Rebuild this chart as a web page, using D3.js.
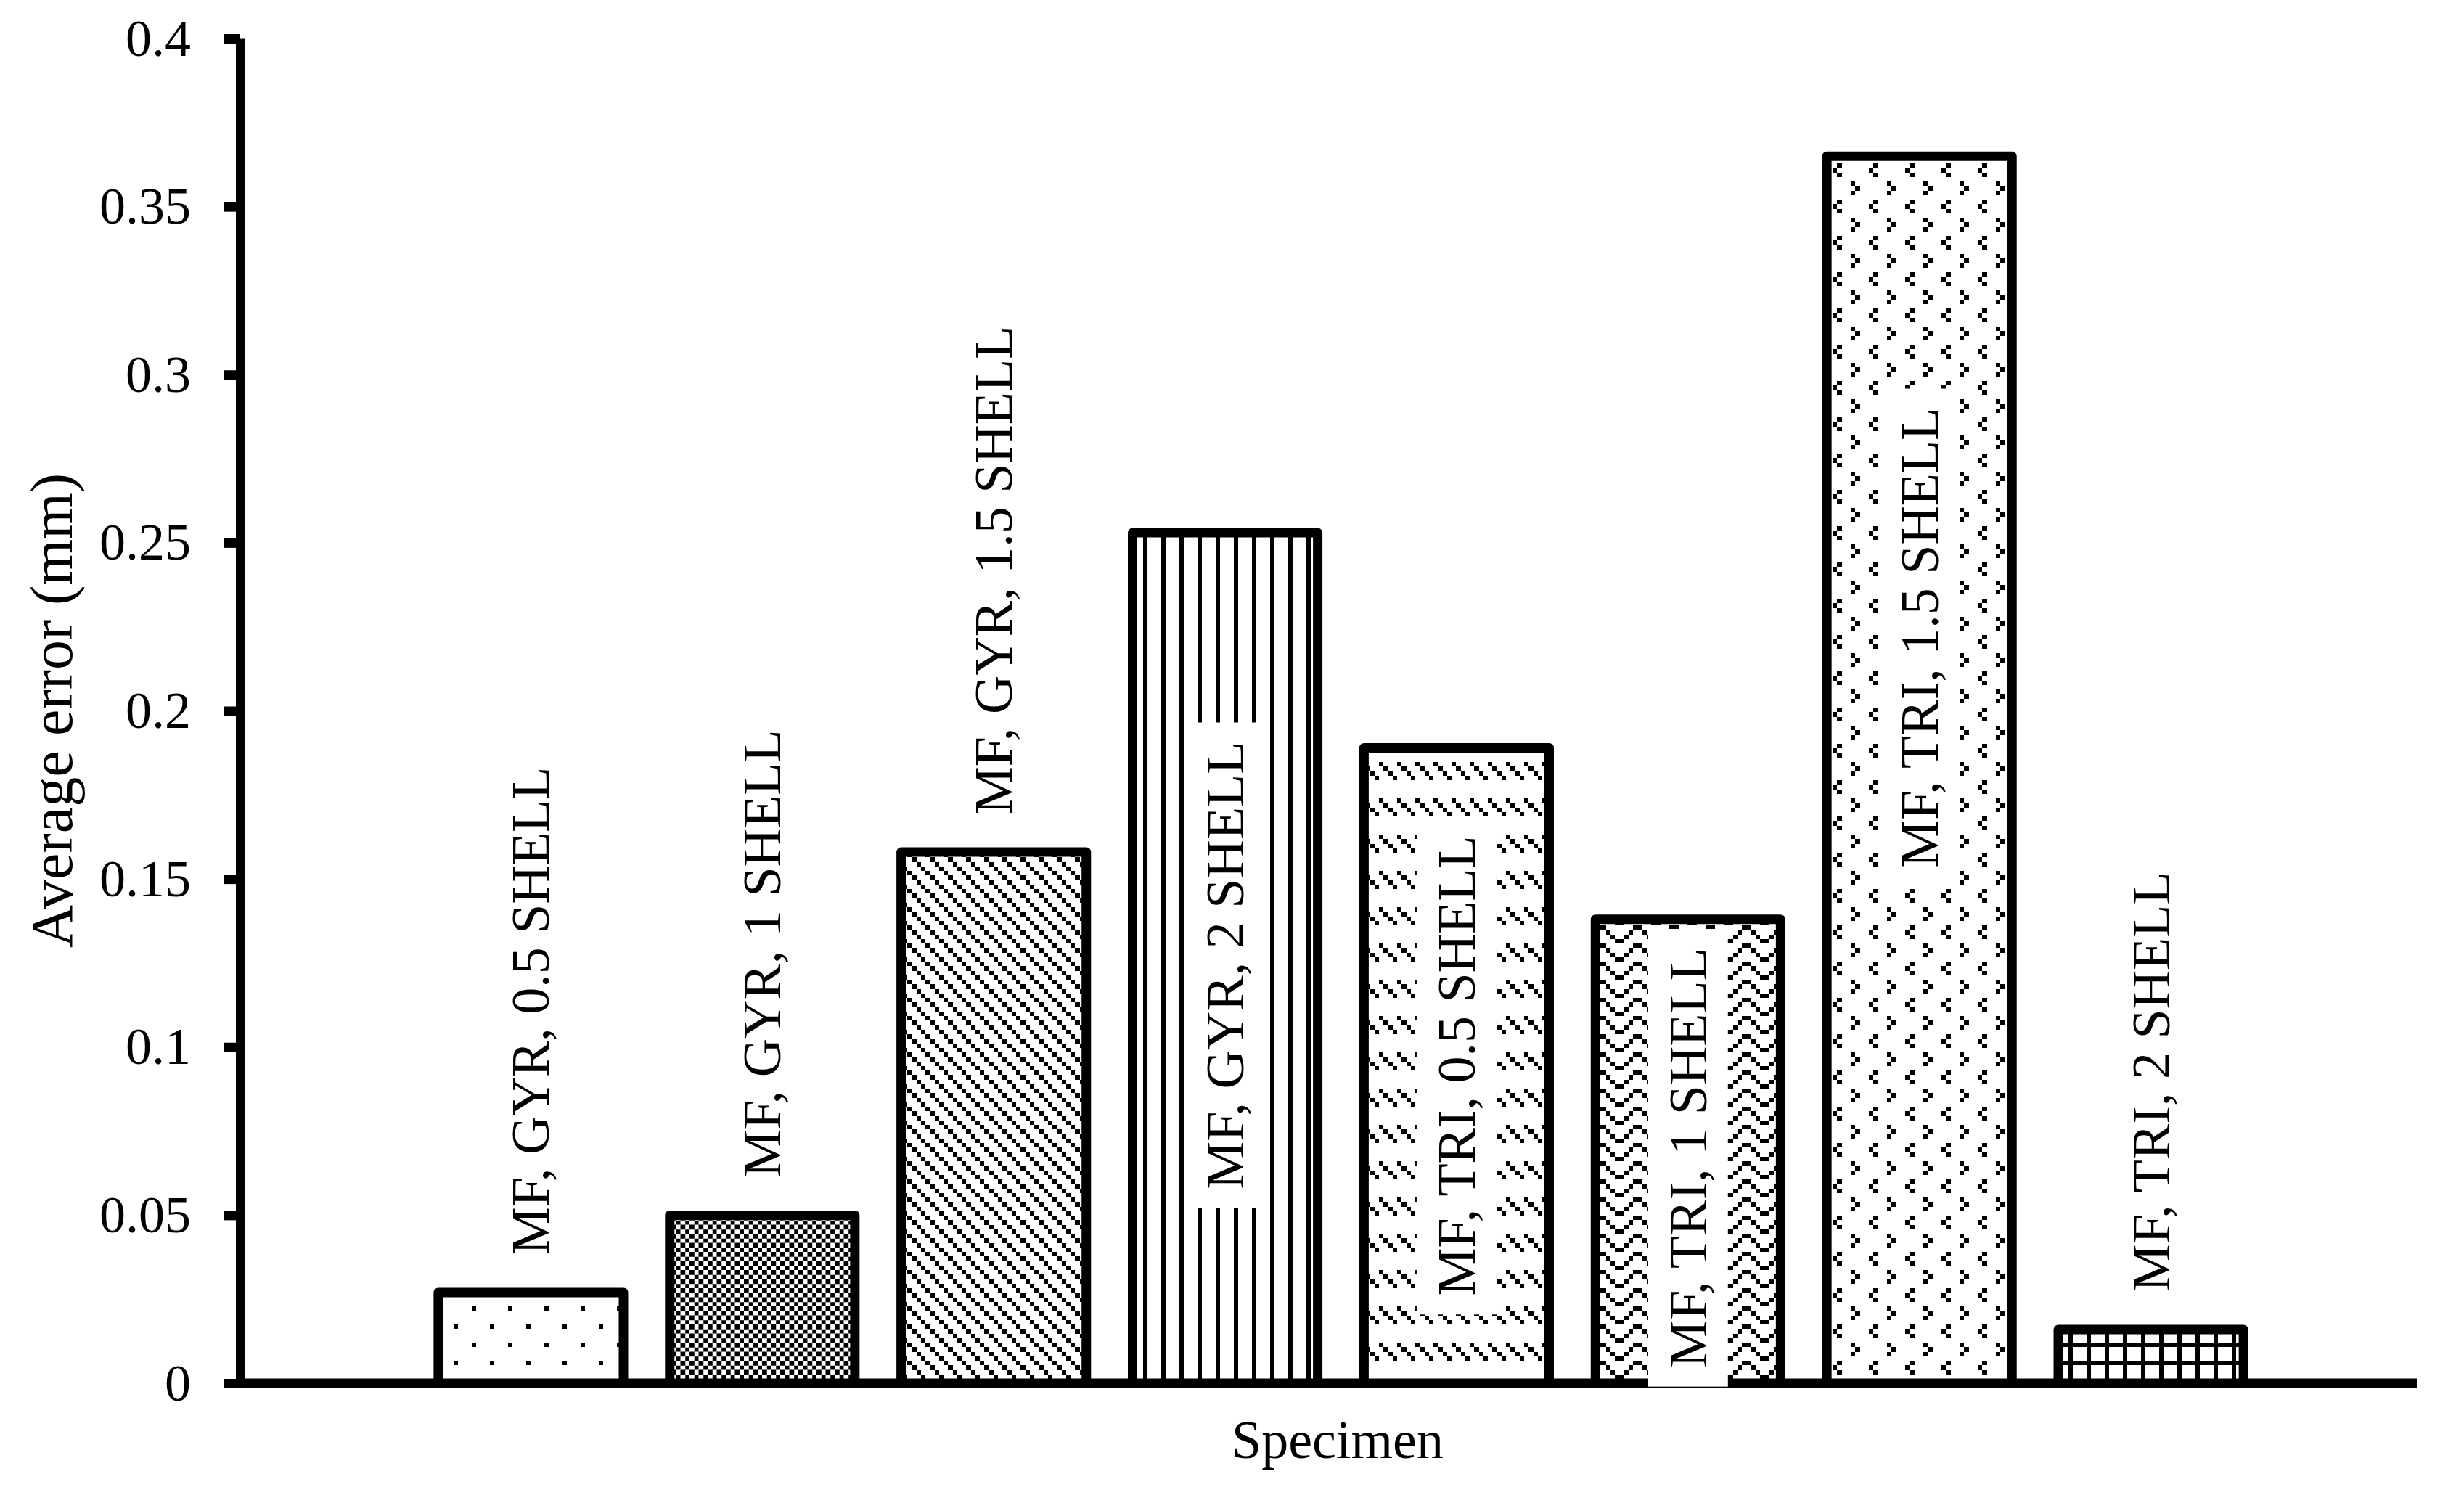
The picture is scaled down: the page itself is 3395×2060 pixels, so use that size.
<!DOCTYPE html>
<html>
<head>
<meta charset="utf-8">
<script src="https://cdn.jsdelivr.net/npm/d3@7/dist/d3.min.js"></script>
<style>
  body { margin: 0; background: #fff; }
  svg { display: block; }
  text { font-family: "Liberation Serif", "Times New Roman", serif; fill: #000; }
</style>
</head>
<body>
<div id="chart-area"></div>
<script>
// data
var specimens = [
    "MF, GYR, 0.5 SHELL",
    "MF, GYR, 1 SHELL",
    "MF, GYR, 1.5 SHELL",
    "MF, GYR, 2 SHELL",
    "MF, TRI, 0.5 SHELL",
    "MF, TRI, 1 SHELL",
    "MF, TRI, 1.5 SHELL",
    "MF, TRI, 2 SHELL"
];
var avgError = [0.027, 0.050, 0.158, 0.253, 0.189, 0.138, 0.365, 0.016];
var yTicks = [0, 0.05, 0.1, 0.15, 0.2, 0.25, 0.3, 0.35, 0.4];
var yTickLabels = ["0", "0.05", "0.1", "0.15", "0.2", "0.25", "0.3", "0.35", "0.4"];

// look of each bar (excel style hatch fills) and where its label sits
var fills = ["pct5", "pct50", "ltDnDiag", "ltVert", "dashDnDiag", "zigZag", "divot", "smGrid"];
var labelInside = [false, false, false, true, true, true, true, false];
var labelShift = [0, 0, 0, 10, 0, 9, -182, 0];

var W = 3395, H = 2060;
var svg = d3.select("#chart-area").append("svg").attr("width", W).attr("height", H);
svg.append("rect").attr("width", W).attr("height", H).attr("fill", "#fff");

// 8x8 style bitmaps, one pattern pixel = 6.25 screen px
var px = 6.25;
var bitmaps = {
    pct5: ["10000000", "00000000", "00000000", "00000000", "00001000", "00000000", "00000000", "00000000"],
    pct50: ["10", "01"],
    ltDnDiag: ["1000", "0100", "0010", "0001"],
    ltVert: ["1000"],
    dashDnDiag: ["1000", "0100", "0010", "0001", "0000", "0000", "0000", "0000"],
    zigZag: ["11000000", "00100001", "00010010", "00001100"],
    divot: ["10000000", "01000000", "10000000", "00000000", "00000100", "00001000", "00000100", "00000000"],
    smGrid: ["1111", "1000", "1000", "1000"]
};

var defs = svg.append("defs");
Object.keys(bitmaps).forEach(function(name) {
    var rows = bitmaps[name];
    var pat = defs.append("pattern")
        .attr("id", "pat-" + name)
        .attr("patternUnits", "userSpaceOnUse")
        .attr("width", rows[0].length * px)
        .attr("height", rows.length * px);
    pat.append("rect")
        .attr("width", rows[0].length * px)
        .attr("height", rows.length * px)
        .attr("fill", "#fff");
    rows.forEach(function(row, r) {
        row.split("").forEach(function(c, k) {
            if (c === "1") {
                pat.append("rect")
                    .attr("x", k * px).attr("y", r * px)
                    .attr("width", px).attr("height", px)
                    .attr("fill", "#000")
                    .attr("shape-rendering", "crispEdges");
            }
        });
    });
});

var y = d3.scaleLinear().domain([0, 0.4]).range([1906, 53]);
var x = d3.scaleBand()
    .domain(specimens)
    .range([572, 3123])
    .paddingInner(0.2)
    .paddingOuter(0.1);

var data = specimens.map(function(s, i) {
    return {name: s, value: avgError[i], fill: fills[i], inside: labelInside[i], shift: labelShift[i]};
});

// y axis
var yAxis = d3.axisLeft(y)
    .tickValues(yTicks)
    .tickFormat(function(d, i) { return yTickLabels[i]; })
    .tickSize(23)
    .tickSizeOuter(0)
    .tickPadding(45);

var yG = svg.append("g")
    .attr("transform", "translate(331,0)")
    .call(yAxis);
yG.select(".domain").attr("stroke", "#000").attr("stroke-width", 13);
yG.selectAll(".tick line").attr("stroke", "#000").attr("stroke-width", 13);
yG.selectAll(".tick text")
    .attr("font-size", 72)
    .attr("font-family", "Liberation Serif, Times New Roman, serif")
    .attr("fill", "#000");

// category axis is just a heavy line
svg.append("line")
    .attr("x1", 325).attr("x2", 3330)
    .attr("y1", y(0)).attr("y2", y(0))
    .attr("stroke", "#000")
    .attr("stroke-width", 13);

// bars
svg.selectAll("rect.bar")
    .data(data)
    .enter().append("rect")
    .attr("class", "bar")
    .attr("x", function(d) { return x(d.name); })
    .attr("y", function(d) { return y(d.value); })
    .attr("width", x.bandwidth())
    .attr("height", function(d) { return y(0) - y(d.value); })
    .attr("fill", function(d) { return "url(#pat-" + d.fill + ")"; })
    .attr("stroke", "#000")
    .attr("stroke-width", 13)
    .attr("stroke-linejoin", "round");

// data labels, rotated
var labels = svg.selectAll("g.lbl")
    .data(data)
    .enter().append("g")
    .attr("class", "lbl")
    .attr("transform", function(d) {
        var cx = x(d.name) + x.bandwidth() / 2;
        var cy = d.inside ? (y(d.value) + y(0)) / 2 + d.shift : y(d.value) - 52;
        return "translate(" + cx + "," + cy + ") rotate(-90)";
    });

labels.append("text")
    .attr("font-size", 74)
    .attr("dominant-baseline", "central")
    .attr("text-anchor", function(d) { return d.inside ? "middle" : "start"; })
    .text(function(d) { return d.name; });

labels.filter(function(d) { return d.inside; }).each(function() {
    var g = d3.select(this);
    var bb = g.select("text").node().getBBox();
    g.insert("rect", "text")
        .attr("x", bb.x - 26)
        .attr("y", bb.y - 14)
        .attr("width", bb.width + 52)
        .attr("height", bb.height + 28)
        .attr("fill", "#fff");
});

// axis titles
svg.append("text")
    .attr("transform", "translate(71,979) rotate(-90)")
    .attr("text-anchor", "middle")
    .attr("dominant-baseline", "central")
    .attr("font-size", 82)
    .text("Average error (mm)");

svg.append("text")
    .attr("x", 1843)
    .attr("y", 2009)
    .attr("text-anchor", "middle")
    .attr("font-size", 74)
    .text("Specimen");
</script>
</body>
</html>
